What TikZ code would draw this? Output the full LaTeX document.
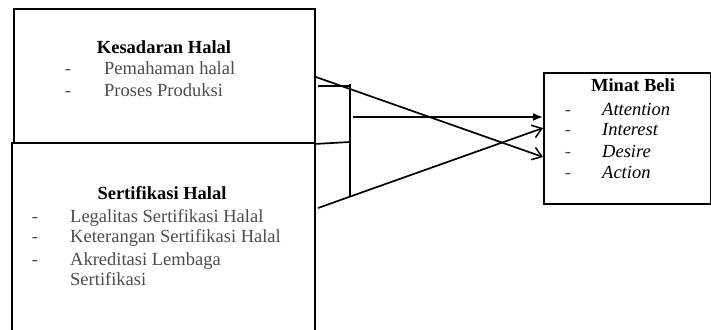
\documentclass[tikz,border=0pt]{standalone}
\usepackage{fontspec}
\setmainfont{Liberation Serif}
\usetikzlibrary{arrows.meta}
\definecolor{itemgray}{gray}{0.3}
\begin{document}
\begin{tikzpicture}[x=1pt,y=-1pt,
  box/.style={draw=black,line width=1.9pt,rectangle,inner sep=0pt,anchor=north west},
  conn/.style={draw=black,line width=1.7pt},
  txt/.style={font=\fontsize{18.5}{20}\selectfont,inner sep=0pt,text height=0.7em,text depth=0.2em},
  title/.style={txt,font=\fontsize{18.5}{20}\selectfont\bfseries},
  item/.style={txt,anchor=west,text=itemgray},
  ditem/.style={txt,anchor=west,font=\fontsize{18.5}{20}\selectfont\itshape},
  bullet/.style={txt,anchor=center,text=itemgray},
  filled/.style={-{Latex[length=10pt,width=8pt]}},
  openarr/.style={-{Straight Barb[length=9pt,width=13pt,line width=1.5pt]}}
]
\useasboundingbox (0,0) rectangle (711,329);
\clip (0,0) rectangle (711,329);

% boxes
\node[box,minimum width=301pt,minimum height=134pt] (kh) at (13,8) {};
\node[box,minimum width=303pt,minimum height=200pt] (sh) at (11,142) {};
\node[box,minimum width=167pt,minimum height=131pt] (mb) at (543,72) {};

% Kesadaran Halal
\node[title] (khT) at (164,51) {Kesadaran Halal};
\node[bullet] (khd1) at (68,72) {-};
\node[item] (khi1) at (104,72) {Pemahaman halal};
\node[bullet] (khd2) at (68,94) {-};
\node[item] (khi2) at (104,94) {Proses Produksi};

% Sertifikasi Halal
\node[title] (shT) at (162,197) {Sertifikasi Halal};
\node[bullet] (shd1) at (35,220) {-};
\node[item] (shi1) at (70,220) {Legalitas Sertifikasi Halal};
\node[bullet] (shd2) at (35,240) {-};
\node[item] (shi2) at (70,240) {Keterangan Sertifikasi Halal};
\node[bullet] (shd3) at (35,263) {-};
\node[item] (shi3) at (70,263) {Akreditasi Lembaga};
\node[item] (shi4) at (70,283) {Sertifikasi};

% Minat Beli
\node[title] (mbT) at (633,89) {Minat Beli};
\node[bullet] (mbd1) at (568,113) {-};
\node[ditem] (mbi1) at (602,113) {Attention};
\node[bullet] (mbd2) at (568,133) {-};
\node[ditem] (mbi2) at (602,133) {Interest};
\node[bullet] (mbd3) at (568,155) {-};
\node[ditem] (mbi3) at (602,155) {Desire};
\node[bullet] (mbd4) at (568,176) {-};
\node[ditem] (mbi4) at (602,176) {Action};

% connector points
\coordinate (brTop) at (350,84);
\coordinate (brBot) at (350,197);
\coordinate (tickL) at (318,86);
\coordinate (tickR) at (350,86);
\coordinate (midL) at (kh.south east);
\coordinate (midR) at (350,142);
\coordinate (hStart) at (353,117);
\coordinate (hEnd) at (mb.west |- 0,117);
\coordinate (d1Start) at (kh.east |- 0,77);
\coordinate (d1End) at (mb.west |- 0,157);
\coordinate (d2Start) at (318,208);
\coordinate (d2End) at (mb.west |- 0,128);

% bracket and links
\draw[conn] (brTop) -- (brBot);
\draw[conn] (tickL) -- (tickR);
\draw[conn] (midL) -- (midR);
\draw[conn,filled] (hStart) -- (hEnd);
\draw[conn,openarr] (d1Start) -- (d1End);
\draw[conn,openarr] (d2Start) -- (d2End);
\end{tikzpicture}
\end{document}
